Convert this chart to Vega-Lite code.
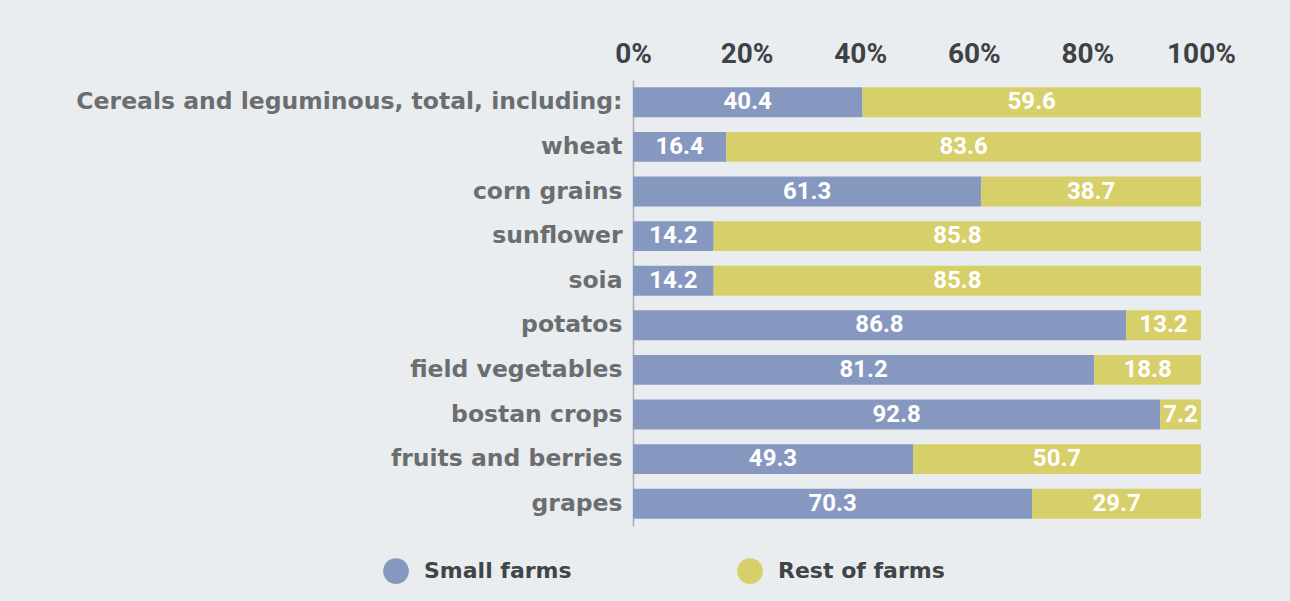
{
  "$schema": "https://vega.github.io/schema/vega-lite/v6.json",
  "autosize": "none",
  "width": 568,
  "height": 446,
  "padding": {"left": 633, "top": 80, "right": 89, "bottom": 75},
  "background": "#e9edf0",
  "config": {"view": {"stroke": null}},
  "data": {
    "values": [
      {"crop": "Cereals and leguminous, total, including:", "group": "Small farms", "k": 1, "share": 40.4},
      {"crop": "Cereals and leguminous, total, including:", "group": "Rest of farms", "k": 2, "share": 59.6},
      {"crop": "wheat", "group": "Small farms", "k": 1, "share": 16.4},
      {"crop": "wheat", "group": "Rest of farms", "k": 2, "share": 83.6},
      {"crop": "corn grains", "group": "Small farms", "k": 1, "share": 61.3},
      {"crop": "corn grains", "group": "Rest of farms", "k": 2, "share": 38.7},
      {"crop": "sunflower", "group": "Small farms", "k": 1, "share": 14.2},
      {"crop": "sunflower", "group": "Rest of farms", "k": 2, "share": 85.8},
      {"crop": "soia", "group": "Small farms", "k": 1, "share": 14.2},
      {"crop": "soia", "group": "Rest of farms", "k": 2, "share": 85.8},
      {"crop": "potatos", "group": "Small farms", "k": 1, "share": 86.8},
      {"crop": "potatos", "group": "Rest of farms", "k": 2, "share": 13.2},
      {"crop": "field vegetables", "group": "Small farms", "k": 1, "share": 81.2},
      {"crop": "field vegetables", "group": "Rest of farms", "k": 2, "share": 18.8},
      {"crop": "bostan crops", "group": "Small farms", "k": 1, "share": 92.8},
      {"crop": "bostan crops", "group": "Rest of farms", "k": 2, "share": 7.2},
      {"crop": "fruits and berries", "group": "Small farms", "k": 1, "share": 49.3},
      {"crop": "fruits and berries", "group": "Rest of farms", "k": 2, "share": 50.7},
      {"crop": "grapes", "group": "Small farms", "k": 1, "share": 70.3},
      {"crop": "grapes", "group": "Rest of farms", "k": 2, "share": 29.7}
    ]
  },
  "encoding": {
    "y": {
      "field": "crop", "type": "nominal", "sort": null, "title": null,
      "scale": {"paddingInner": 0.33, "paddingOuter": 0.165},
      "axis": {
        "ticks": false, "labelPadding": 11, "labelLimit": 700,
        "labelFont": "DejaVu Sans", "labelFontSize": 23.5, "labelFontWeight": "bold",
        "labelColor": "#6b6d6f", "domainColor": "#a9adb0", "domainWidth": 1.5
      }
    },
    "x": {
      "field": "share", "type": "quantitative", "stack": "zero", "title": null,
      "scale": {"domain": [0, 100], "nice": false},
      "axis": {
        "orient": "top", "values": [0, 20, 40, 60, 80, 100], "labelFlush": false,
        "labelExpr": "datum.value + '%'", "grid": false, "ticks": false, "domain": false,
        "labelPadding": 12, "labelFont": "Roboto", "labelFontSize": 28, "labelFontWeight": "bold",
        "labelColor": "#3e4244"
      }
    },
    "order": {"field": "k", "type": "quantitative"}
  },
  "layer": [
    {
      "mark": {"type": "bar"},
      "encoding": {
        "color": {
          "field": "group", "type": "nominal",
          "scale": {"domain": ["Small farms", "Rest of farms"], "range": ["#8798c0", "#d6cf6a"]},
          "legend": {
            "title": null, "orient": "none", "legendX": -250, "legendY": 478,
            "direction": "horizontal", "columns": 2, "symbolType": "circle", "symbolSize": 660,
            "symbolStrokeWidth": 0, "labelFont": "DejaVu Sans", "labelFontSize": 22, "labelFontWeight": "bold",
            "labelColor": "#404547", "labelOffset": 15, "labelLimit": 400, "columnPadding": 165
          }
        }
      }
    },
    {
      "mark": {"type": "text", "color": "white", "font": "Roboto", "fontWeight": "bold", "fontSize": 24, "baseline": "middle", "align": "center"},
      "encoding": {
        "x": {"field": "share", "type": "quantitative", "stack": "zero", "bandPosition": 0.5},
        "text": {"field": "share", "type": "quantitative", "format": ".1f"}
      }
    }
  ]
}
